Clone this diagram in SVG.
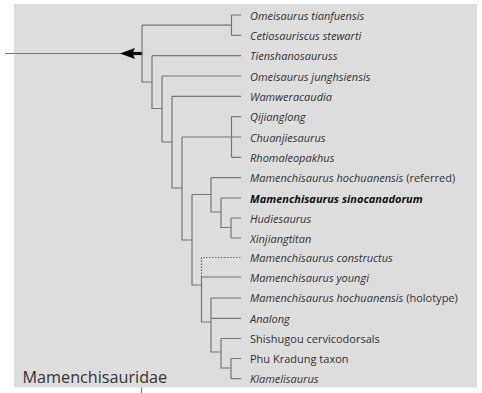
<svg xmlns="http://www.w3.org/2000/svg" width="482" height="393" viewBox="0 0 482 393">
<style>
.bg{fill:#dddddd}
.e{stroke:#777777;stroke-width:1.2;fill:none}
.d{stroke:#666666;stroke-width:1.2;fill:none;stroke-dasharray:1.5 1.5}
.t{font-family:"Open Sans",sans-serif;font-size:11px;fill:#333333}
.i{font-style:italic}
.b{font-weight:bold;fill:#111111}
.big{font-family:"Open Sans",sans-serif;font-size:16.2px;fill:#333333}
</style>
<rect class="bg" x="14" y="4" width="463" height="383.5"/>
<g id="connectors">
<line class="e" x1="5" y1="53.5" x2="122" y2="53.5"/>
<path d="M120,53.5 L135,48 Q131.5,53.5 135,59 Z" fill="#000"/>
<line x1="132" y1="53.5" x2="142.5" y2="53.5" stroke="#000" stroke-width="3.2"/>
<path class="e" d="M142,25.2V82H152M142,25.2H231.5M231.5,15V35.3M231.5,15H241M231.5,35.3H241"/>
<path class="e" d="M152,55.7V108.5H162M152,55.7H241"/>
<path class="e" d="M162,76V142H172M162,76H241"/>
<path class="e" d="M172,96.3V188H182M172,96.3H241"/>
<path class="e" d="M231.5,116.6V157.3M231.5,116.6H241M231.5,157.3H241M182,137H241"/>
<path class="e" d="M182,137V240H192"/>
<path class="e" d="M192,194.5V285H201.5M192,194.5H211"/>
<path class="e" d="M211,177.6V212H221M211,177.6H241"/>
<path class="e" d="M221,198V227.5H231M221,198H241M231,218V238M231,218H241M231,238H241"/>
<path class="d" d="M201.5,277V257.5H241"/>
<path class="e" d="M201.5,277V322H211M201.5,277H241"/>
<path class="e" d="M211,298V352H221M211,298H241M211,318.3H241"/>
<path class="e" d="M221,338.5V368H231M221,338.5H241M231,358.5V378.6M231,358.5H241M231,378.6H241"/>
<line class="e" x1="141.5" y1="387.5" x2="141.5" y2="393"/>
</g>
<g id="n1"><text class="t i" x="250" y="19.5">Omeisaurus tianfuensis</text></g>
<g id="n2"><text class="t i" x="250" y="39.8">Cetiosauriscus stewarti</text></g>
<g id="n3"><text class="t i" x="250" y="60.2">Tienshanosauruss</text></g>
<g id="n4"><text class="t i" x="250" y="80.5">Omeisaurus junghsiensis</text></g>
<g id="n5"><text class="t i" x="250" y="100.8">Wamweracaudia</text></g>
<g id="n6"><text class="t i" x="250" y="121.1">Qijianglong</text></g>
<g id="n7"><text class="t i" x="250" y="141.5">Chuanjiesaurus</text></g>
<g id="n8"><text class="t i" x="250" y="161.8">Rhomaleopakhus</text></g>
<g id="n9"><text class="t" x="250" y="182.1"><tspan class="i">Mamenchisaurus hochuanensis</tspan> (referred)</text></g>
<g id="n10"><text class="t i b" x="250" y="202.5">Mamenchisaurus sinocanadorum</text></g>
<g id="n11"><text class="t i" x="250" y="222.5">Hudiesaurus</text></g>
<g id="n12"><text class="t i" x="250" y="242.5">Xinjiangtitan</text></g>
<g id="n13"><text class="t i" x="250" y="262">Mamenchisaurus constructus</text></g>
<g id="n14"><text class="t i" x="250" y="282">Mamenchisaurus youngi</text></g>
<g id="n15"><text class="t" x="250" y="302.3"><tspan class="i">Mamenchisaurus hochuanensis</tspan> (holotype)</text></g>
<g id="n16"><text class="t i" x="250" y="322.6">Analong</text></g>
<g id="n17"><text class="t" x="250" y="343">Shishugou cervicodorsals</text></g>
<g id="n18"><text class="t" x="250" y="363">Phu Kradung taxon</text></g>
<g id="n19"><text class="t i" x="250" y="383">Klamelisaurus</text></g>
<g id="title"><text class="big" x="22.5" y="382.7">Mamenchisauridae</text></g>
</svg>
